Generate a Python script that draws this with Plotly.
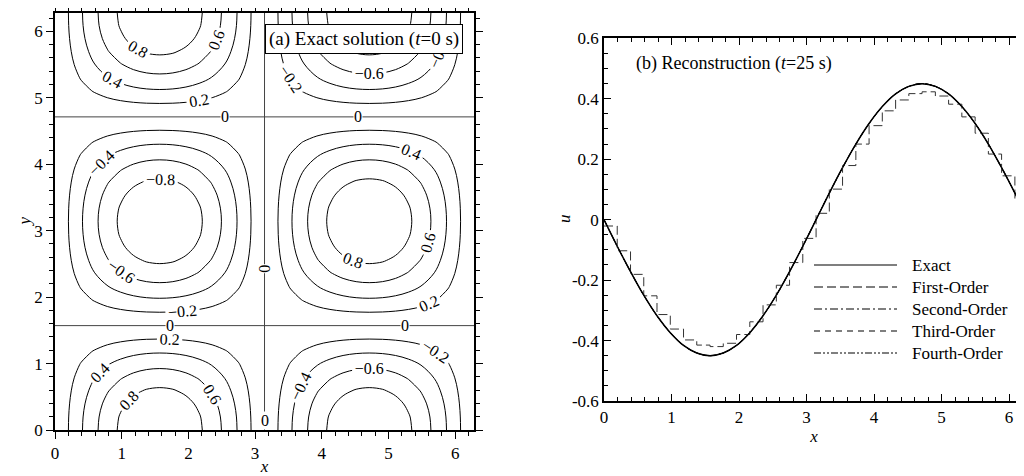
import plotly.graph_objects as go

# grid nodes for panel (a), spacing pi/16 on [0, 2pi]
grid_a = [0.0, 0.196, 0.393, 0.589, 0.785, 0.982, 1.178, 1.374, 1.571, 1.767, 1.963,
          2.160, 2.356, 2.553, 2.749, 2.945, 3.142, 3.338, 3.534, 3.731, 3.927, 4.123,
          4.320, 4.516, 4.712, 4.909, 5.105, 5.301, 5.498, 5.694, 5.890, 6.087, 6.283]
# profile of the exact field along x and along y (t = 0 s)
prof_x = [0.0, 0.195, 0.383, 0.556, 0.707, 0.831, 0.924, 0.981, 1.0, 0.981, 0.924,
          0.831, 0.707, 0.556, 0.383, 0.195, 0.0, -0.195, -0.383, -0.556, -0.707, -0.831,
          -0.924, -0.981, -1.0, -0.981, -0.924, -0.831, -0.707, -0.556, -0.383, -0.195, 0.0]
prof_y = [1.0, 0.981, 0.924, 0.831, 0.707, 0.556, 0.383, 0.195, 0.0, -0.195, -0.383,
          -0.556, -0.707, -0.831, -0.924, -0.981, -1.0, -0.981, -0.924, -0.831, -0.707, -0.556,
          -0.383, -0.195, 0.0, 0.195, 0.383, 0.556, 0.707, 0.831, 0.924, 0.981, 1.0]
# where the field is zero (straight contour lines)
zero_x = [3.142]
zero_y = [1.571, 4.712]

# panel (b): exact curve at t = 25 s
u_exact = [0.0, -0.088, -0.172, -0.250, -0.318, -0.374, -0.416, -0.441, -0.450, -0.441, -0.416,
           -0.374, -0.318, -0.250, -0.172, -0.088, 0.0, 0.088, 0.172, 0.250, 0.318, 0.374,
           0.416, 0.441, 0.450, 0.441, 0.416, 0.374, 0.318, 0.250, 0.172, 0.088, 0.0]
# first-order cell values (32 cells)
u_first = [-0.021, -0.103, -0.181, -0.252, -0.314, -0.362, -0.398, -0.415,
           -0.420, -0.409, -0.380, -0.338, -0.282, -0.217, -0.142, -0.062,
           0.021, 0.101, 0.179, 0.250, 0.311, 0.360, 0.396, 0.417,
           0.423, 0.409, 0.382, 0.340, 0.286, 0.217, 0.145, 0.063]
u_second = u_exact
u_third = u_exact
u_fourth = u_exact

u_ticks = [-0.6, -0.4, -0.2, 0, 0.2, 0.4, 0.6]
u_ticktext = ["-0.6", "-0.4", "-0.2", "0", "0.2", "0.4", "0.6"]
legend_names = ["Exact", "First-Order", "Second-Order", "Third-Order", "Fourth-Order"]

FONT = "Liberation Serif"
# the page body adds an 8px margin, so the figure is a little smaller
W, H = 1016, 468

z = [[py * px for px in prof_x] for py in prof_y]

# staircase for the first-order solution
sx, sy = [], []
for i, v in enumerate(u_first):
    sx += [grid_a[i], grid_a[i + 1]]
    sy += [v, v]

fig = go.Figure()
lblfont = dict(family=FONT, size=16, color="black")
for lo, hi in [(-0.8, -0.2), (0.2, 0.8)]:
    fig.add_trace(go.Contour(
        x=grid_a, y=grid_a, z=z, showscale=False, xaxis="x", yaxis="y",
        contours=dict(start=lo, end=hi, size=0.2, coloring="none", showlabels=True,
                      labelformat=".1~f", labelfont=lblfont),
        line=dict(color="black", width=1, smoothing=1.0), showlegend=False,
        hoverinfo="skip"))

# zero contour
for zx in zero_x:
    fig.add_trace(go.Scatter(x=[zx, zx], y=[grid_a[0], grid_a[-1]], mode="lines",
                             line=dict(color="#444", width=1), showlegend=False,
                             hoverinfo="skip", xaxis="x", yaxis="y"))
for zy in zero_y:
    fig.add_trace(go.Scatter(x=[grid_a[0], grid_a[-1]], y=[zy, zy], mode="lines",
                             line=dict(color="#444", width=1), showlegend=False,
                             hoverinfo="skip", xaxis="x", yaxis="y"))

fig.add_trace(go.Scatter(x=grid_a, y=u_exact, mode="lines", name=legend_names[0],
                         line=dict(color="black", width=1.5, shape="spline"),
                         xaxis="x2", yaxis="y2", showlegend=False))
fig.add_trace(go.Scatter(x=sx, y=sy, mode="lines", name=legend_names[1],
                         line=dict(color="#333", width=1, dash="9px,4px"),
                         xaxis="x2", yaxis="y2", showlegend=False))
dashes = ["solid", "9px,4px", "8px,3px,2px,3px", "6px,5px", "7px,2px,2px,2px,2px,2px"]
for name, vals, d in [(legend_names[2], u_second, dashes[2]),
                      (legend_names[3], u_third, dashes[3]),
                      (legend_names[4], u_fourth, dashes[4])]:
    fig.add_trace(go.Scatter(x=grid_a, y=vals, mode="lines", name=name,
                             line=dict(color="black", width=1, dash=d, shape="spline"),
                             xaxis="x2", yaxis="y2", showlegend=False))

tickfont = dict(family=FONT, size=17, color="black")
titlefont = dict(family=FONT, size=17, color="black")


def axis(rng, dom, dtick, minor, ticks, title, anchor, standoff):
    return dict(range=rng, domain=dom, dtick=dtick, tick0=0, ticks=ticks, ticklen=7,
                tickwidth=1, tickcolor="black", showline=True, linecolor="black",
                linewidth=1.5, mirror="allticks", showgrid=False, zeroline=False,
                tickfont=tickfont, anchor=anchor, automargin=False,
                minor=dict(dtick=minor, ticks=ticks, ticklen=4, tickcolor="black",
                           showgrid=False),
                title=dict(text=title, font=titlefont, standoff=standoff))


def px_x(p):
    return (p - 8) / W


def px_y(p):
    return 1 - (p - 8) / H


annotations = [
    dict(text="(a) Exact solution (<i>t</i>=0 s)", xref="x", yref="y", x=6.12, y=5.89,
         xanchor="right", yanchor="middle", showarrow=False, bgcolor="white",
         bordercolor="black", borderwidth=1, borderpad=3,
         font=dict(family=FONT, size=19, color="black")),
    dict(text="(b) Reconstruction (<i>t</i>=25 s)", xref="x2", yref="y2", x=0.45, y=0.515,
         xanchor="left", yanchor="middle", showarrow=False,
         font=dict(family=FONT, size=18, color="black")),
    # y-axis titles
    dict(text="<i>y</i>", xref="paper", yref="paper", x=px_x(13), y=px_y(222),
         textangle=-90, showarrow=False, font=titlefont),
    dict(text="<i>u</i>", xref="paper", yref="paper", x=px_x(565), y=px_y(219),
         textangle=-90, showarrow=False, font=titlefont),
]
# labels of the zero contour lines
for lx, ly, ang in [(2.55, zero_y[1], 0), (4.55, zero_y[1], 0), (1.72, zero_y[0], 0),
                    (5.25, zero_y[0], 0), (zero_x[0], 2.42, -90), (zero_x[0], 0.14, 0)]:
    annotations.append(dict(text="0", xref="x", yref="y", x=lx, y=ly, showarrow=False,
                            textangle=ang, bgcolor="white", borderpad=0,
                            font=lblfont))

# hand-drawn legend with long line samples
shapes = []
for i, name in enumerate(legend_names):
    yp = px_y(265 + 22 * i)
    shapes.append(dict(type="line", xref="paper", yref="paper", x0=px_x(814), x1=px_x(897),
                       y0=yp, y1=yp, line=dict(color="black", width=1.2, dash=dashes[i])))
    annotations.append(dict(text=name, xref="paper", yref="paper", x=px_x(910), y=yp,
                            xanchor="left", yanchor="middle", showarrow=False,
                            font=dict(family=FONT, size=17, color="black")))

fig.update_layout(
    width=W, height=H, margin=dict(l=0, r=0, t=0, b=0), template="none",
    paper_bgcolor="white", plot_bgcolor="white", font=dict(family=FONT),
    xaxis=axis([0, 6.283], [px_x(55), px_x(474)], 1, 0.2, "outside", "<i>x</i>", "y", 0),
    yaxis=axis([0, 6.283], [px_y(430), px_y(12.5)], 1, 0.2, "outside", "", "x", 0),
    xaxis2=axis([0, 6.222], [px_x(604), 1.0], 1, 0.2, "inside", "<i>x</i>", "y2", 2),
    yaxis2=dict(axis([-0.6, 0.6], [px_y(401), px_y(38.3)], 0.2, 0.05, "inside", "", "x2", 0),
                tickmode="array", tickvals=u_ticks, ticktext=u_ticktext),
    annotations=annotations, shapes=shapes,
)

fig.write_html("out.html")
